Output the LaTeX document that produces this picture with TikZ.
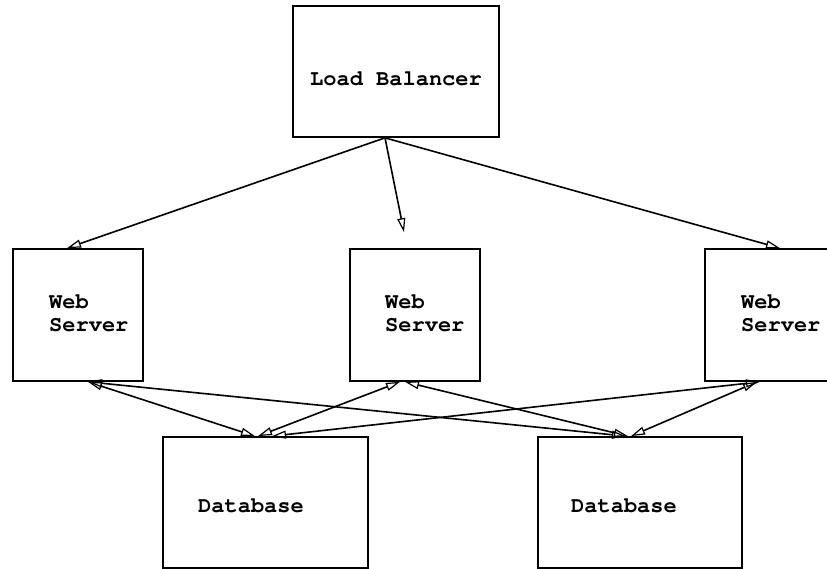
\documentclass[tikz,border=0pt]{standalone}
\usepackage{fontspec}
\setmonofont{TeX Gyre Cursor}
\usetikzlibrary{arrows.meta}
\tikzset{
  box/.style={draw=black, line width=1.7pt, rectangle, inner sep=0pt, fill=white},
  lbl/.style={font=\ttfamily\bfseries\fontsize{22}{23}\selectfont, inner sep=0pt, anchor=base west, align=left},
  conn/.style={line width=1.6pt, -{Triangle[open, length=14pt, width=8pt, line width=1.2pt]}},
  bconn/.style={line width=1.6pt, {Triangle[open, length=14pt, width=8pt, line width=1.2pt]}-{Triangle[open, length=14pt, width=8pt, line width=1.2pt]}},
}
\begin{document}
\begin{tikzpicture}[x=1pt,y=-1pt]
\useasboundingbox (0,0) rectangle (827,569);
\clip (0,0) rectangle (827,569);
\fill[white] (0,0) rectangle (827,569);
% boxes
\node[box, minimum width=206pt, minimum height=131pt] (lb) at (396,71.5) {};
\node[box, minimum width=130pt, minimum height=132pt] (ws1) at (78,315) {};
\node[box, minimum width=130pt, minimum height=132pt] (ws2) at (415,315) {};
\node[box, minimum width=130pt, minimum height=132pt] (ws3) at (770,315) {};
\node[box, minimum width=205pt, minimum height=131pt] (db1) at (265.5,502.5) {};
\node[box, minimum width=204pt, minimum height=131pt] (db2) at (640,502.5) {};
% labels
\node[lbl] (tlb) at (310,85.5) {Load Balancer};
\node[lbl] (tws1) at (49,331) {Web\\ Server};
\node[lbl] (tws2) at (385,331) {Web\\ Server};
\node[lbl] (tws3) at (741,331) {Web\\ Server};
\node[lbl] (tdb1) at (198,512) {Database};
\node[lbl] (tdb2) at (571,512) {Database};
% load balancer connectors
\draw[conn] ([xshift=-11pt]lb.south) -- ([xshift=-11pt]ws1.north);
\draw[conn] ([xshift=-11pt]lb.south) -- ([xshift=-11pt,yshift=16pt]ws2.north);
\draw[conn] ([xshift=-11pt]lb.south) -- ([xshift=10pt]ws3.north);
% web server <-> database connectors
\draw[bconn] ([xshift=10pt]ws1.south) -- ([xshift=-10.5pt]db1.north);
\draw[bconn] ([xshift=-15pt]ws2.south) -- ([xshift=-7.5pt]db1.north);
\draw[bconn] ([xshift=-10pt]ws3.south) -- ([xshift=6.5pt]db1.north);
\draw[bconn] ([xshift=10pt]ws1.south) -- ([xshift=-14pt]db2.north);
\draw[bconn] ([xshift=-10pt]ws2.south) -- ([xshift=-12pt]db2.north);
\draw[bconn] ([xshift=-13pt]ws3.south) -- ([xshift=-9pt]db2.north);
\end{tikzpicture}
\end{document}
